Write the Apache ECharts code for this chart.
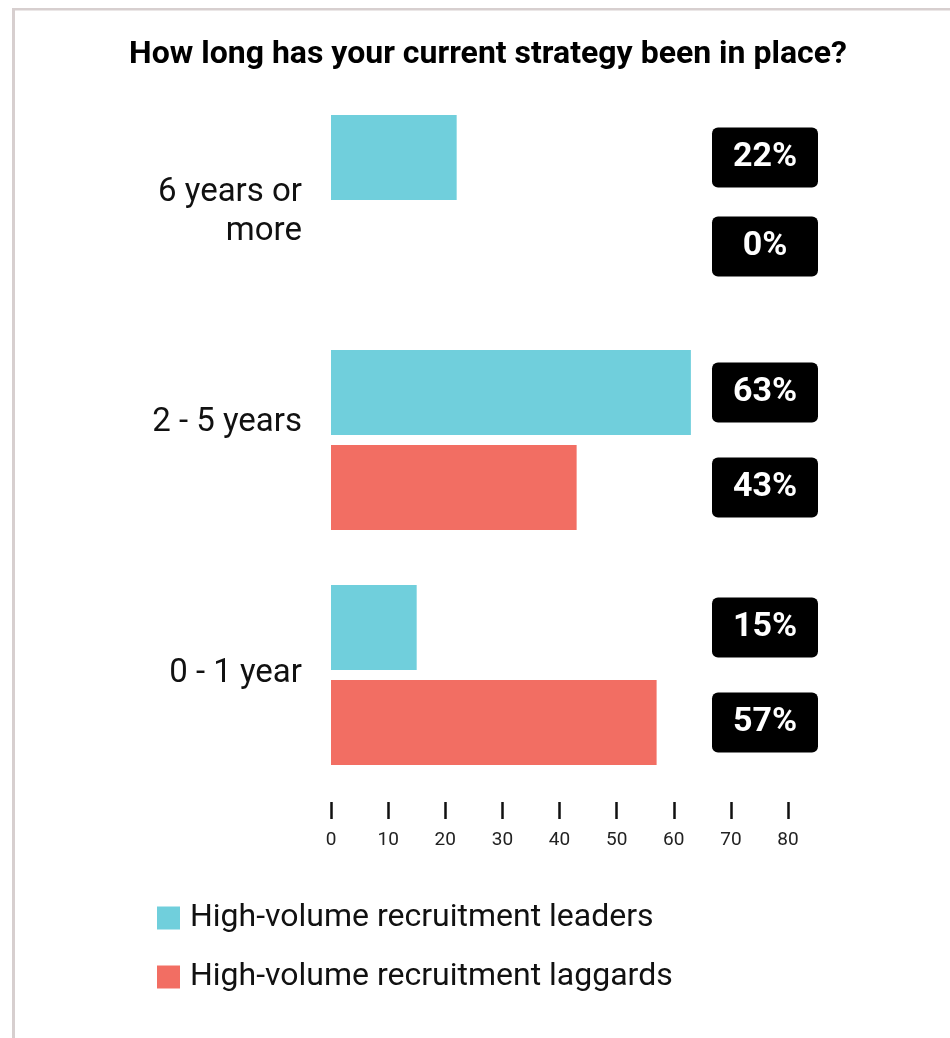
<!DOCTYPE html>
<html>
<head>
<meta charset="utf-8">
<script src="https://cdn.jsdelivr.net/npm/echarts@6/dist/echarts.min.js"></script>
<style>
  html, body { margin: 0; padding: 0; background: #ffffff; }
  #chart { width: 950px; height: 1038px; }
</style>
</head>
<body>
<div id="chart"></div>
<script>
// Survey answers: how long the current strategy has been in place (% of respondents)
const titleText = 'How long has your current strategy been in place?';
const categories = ['6 years or\nmore', '2 - 5 years', '0 - 1 year'];
const seriesNames = ['High-volume recruitment leaders', 'High-volume recruitment laggards'];
const leaders = [22, 63, 15];
const laggards = [0, 43, 57];
const axisTicks = [0, 10, 20, 30, 40, 50, 60, 70, 80];

const COLORS = ['#70cfdc', '#f26e63'];
const FONT = 'Roboto, "Noto Sans", sans-serif';

// grid geometry (pixels)
const W = 950, H = 1038;
const GRID = { left: 331, right: 162, top: 87.5, bottom: 245.5 };
const BADGE_X = W - GRID.right - 23;      // centre of the value badges
// small vertical nudges of the category labels (px, negative = up)
const labelNudge = [7, -17, -1];

const chart = echarts.init(document.getElementById('chart'), null, { renderer: 'canvas' });

function categoryLabel(value, index) {
  const n = labelNudge[index] || 0;
  const gap = '{g' + index + '| }';
  if (n > 0) return gap + '\n' + value;
  if (n < 0) return value + '\n' + gap;
  return value;
}
const spacerRich = {};
labelNudge.forEach((n, i) => {
  spacerRich['g' + i] = { fontSize: 1, lineHeight: Math.abs(n) * 2, height: Math.abs(n) * 2 };
});

const badgeLabel = {
  show: true,
  formatter: '{c}%',
  color: '#ffffff',
  fontFamily: FONT,
  fontSize: 34,
  fontWeight: 'bold',
  backgroundColor: '#000000',
  borderRadius: 6,
  width: 106,
  height: 60,
  lineHeight: 60,
  align: 'center',
  verticalAlign: 'middle'
};

function badgeLayout(p) {
  // badges of empty bars sit a little higher
  const dy = p.rect.width === 0 ? -6 : 0;
  return {
    x: BADGE_X,
    y: p.rect.y + p.rect.height / 2 + dy,
    align: 'center',
    verticalAlign: 'middle'
  };
}

const option = {
  backgroundColor: '#ffffff',
  animation: false,
  textStyle: { fontFamily: FONT },
  grid: { left: GRID.left, right: GRID.right, top: GRID.top, bottom: GRID.bottom, containLabel: false },
  graphic: [
    // frame lines on the top and left edges
    { type: 'rect', shape: { x: 12, y: 8, width: W - 12, height: 2.5 }, style: { fill: '#d7cfcf' }, silent: true },
    { type: 'rect', shape: { x: 12, y: 8, width: 3, height: H - 8 }, style: { fill: '#d7cfcf' }, silent: true },
    {
      type: 'text', x: 488, y: 55,
      style: {
        text: titleText, fill: '#000000',
        font: 'bold 32px ' + FONT,
        align: 'center', verticalAlign: 'middle'
      },
      silent: true
    }
  ],
  legend: {
    orient: 'vertical',
    left: 152,
    top: 897,
    itemWidth: 23,
    itemHeight: 23,
    itemGap: 27,
    icon: 'rect',
    selectedMode: false,
    data: seriesNames,
    textStyle: { fontFamily: FONT, fontSize: 32, lineHeight: 31, color: '#111111', padding: [0, 0, 0, 5] }
  },
  xAxis: {
    type: 'value',
    min: axisTicks[0],
    max: axisTicks[axisTicks.length - 1],
    interval: axisTicks[1] - axisTicks[0],
    position: 'bottom',
    offset: 9.5,
    axisLine: { show: false },
    axisTick: { show: true, length: 17, lineStyle: { color: '#111111', width: 2.5 } },
    splitLine: { show: false },
    axisLabel: { fontFamily: FONT, fontSize: 19, color: '#222222', margin: 29 }
  },
  yAxis: {
    type: 'category',
    inverse: true,
    data: categories,
    axisLine: { show: false },
    axisTick: { show: false },
    splitLine: { show: false },
    axisLabel: {
      fontFamily: FONT, fontSize: 33, lineHeight: 39, color: '#111111',
      margin: 29, align: 'right',
      formatter: categoryLabel,
      rich: spacerRich
    }
  },
  series: [
    {
      name: seriesNames[0], type: 'bar', data: leaders,
      barWidth: 85, barGap: '12%',
      itemStyle: { color: COLORS[0] },
      label: badgeLabel, labelLayout: badgeLayout
    },
    {
      name: seriesNames[1], type: 'bar', data: laggards,
      barWidth: 85, barGap: '12%',
      itemStyle: { color: COLORS[1] },
      label: badgeLabel, labelLayout: badgeLayout
    }
  ]
};

chart.setOption(option);
</script>
</body>
</html>
